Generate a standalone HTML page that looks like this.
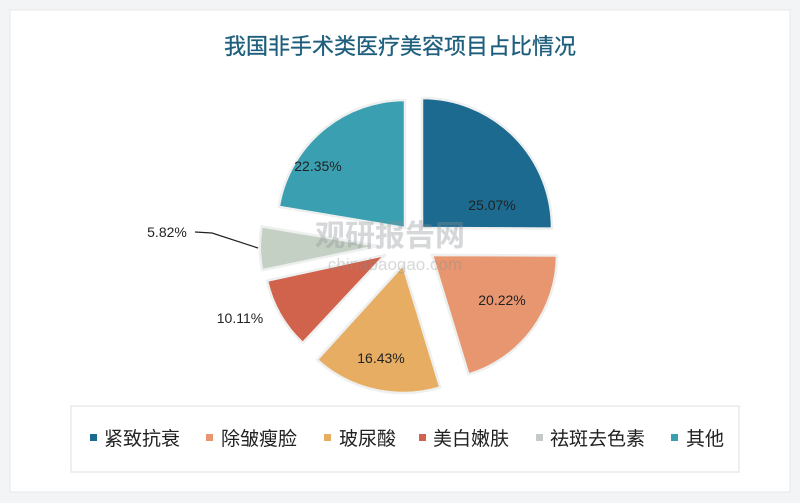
<!DOCTYPE html>
<html><head><meta charset="utf-8"><style>
html,body{margin:0;padding:0;background:#f4f5f6;}
svg{display:block}
text{font-family:"Liberation Sans","Noto Sans CJK SC",sans-serif;}
</style></head><body>
<svg width="800" height="503" viewBox="0 0 800 503">
<rect x="0" y="0" width="800" height="503" fill="#f3f4f5"/>
<rect x="10" y="10" width="780" height="482" fill="#ffffff" stroke="#e6e8ea"/>
<text x="400" y="54" text-anchor="middle" font-size="22" fill="#1f5f7d" stroke="#1f5f7d" stroke-width="0.3" font-family="Noto Sans CJK SC, sans-serif">我国非手术类医疗美容项目占比情况</text>
<g stroke="#eef0f0" stroke-width="2.5" stroke-linejoin="round">
<path d="M422,228 L422,98 A130,130 0 0 1 552,228.6 Z" fill="#1c6a8f"/>
<path d="M432,255 L557,255.5 A125,125 0 0 1 468.5,374.6 Z" fill="#e8966f"/>
<path d="M403,265 L440.3,387.4 A128,128 0 0 1 317,359.8 Z" fill="#e7ae63"/>
<path d="M385,255 L302.8,343 A120,120 0 0 1 267,280.7 Z" fill="#d1624b"/>
<path d="M378,246 L262.2,270.2 A118,118 0 0 1 261.5,226.4 Z" fill="#c5d0c4"/>
<path d="M405,228 L278.8,206.8 A128,128 0 0 1 405,100 Z" fill="#3a9fb1"/>
</g>
<text x="390" y="246" text-anchor="middle" font-size="30" font-weight="bold" fill="#8a8f94" opacity="0.35" font-family="Noto Sans CJK SC, sans-serif">观研报告网</text>
<text x="395" y="270" text-anchor="middle" font-size="17" fill="#8a8f94" opacity="0.35">chinabaogao.com</text>
<g font-size="14" fill="#222" text-anchor="middle">
<text x="492" y="210">25.07%</text>
<text x="502" y="305">20.22%</text>
<text x="381" y="363">16.43%</text>
<text x="240" y="323">10.11%</text>
<text x="167" y="237">5.82%</text>
<text x="318" y="171">22.35%</text>
</g>
<polyline points="195,232 212,233 258,248" fill="none" stroke="#222" stroke-width="1.2"/>
<rect x="71" y="406" width="668" height="66" fill="#ffffff" stroke="#dcdfe2"/>
<g font-size="19" fill="#222" font-family="Noto Sans CJK SC, sans-serif">
<rect x="90" y="434" width="7" height="7" fill="#1c6a8f"/><text x="104" y="445">紧致抗衰</text>
<rect x="206" y="434" width="7" height="7" fill="#e8966f"/><text x="221" y="445">除皱瘦脸</text>
<rect x="324" y="434" width="7" height="7" fill="#e7ae63"/><text x="339" y="445">玻尿酸</text>
<rect x="419" y="434" width="7" height="7" fill="#d1624b"/><text x="433" y="445">美白嫩肤</text>
<rect x="536" y="434" width="7" height="7" fill="#c5c9c8"/><text x="550" y="445">祛斑去色素</text>
<rect x="671" y="434" width="7" height="7" fill="#3a9fb1"/><text x="686" y="445">其他</text>
</g>
</svg>
</body></html>
